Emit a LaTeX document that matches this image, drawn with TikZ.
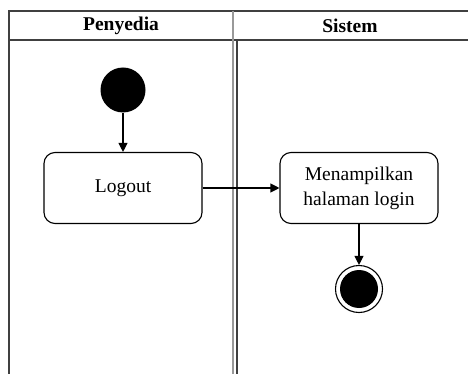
\documentclass[tikz,border=0pt]{standalone}
\usepackage{fontspec}
\setmainfont{Liberation Serif}
\usetikzlibrary{arrows.meta}

\begin{document}
\begin{tikzpicture}[x=1pt,y=-1pt,
    >={Triangle[length=9pt,width=9pt]},
    lane/.style={line width=1.2pt, black!75},
    lanehead/.style={font=\bfseries\fontsize{19.5}{22}\selectfont},
    activity/.style={draw, rounded corners=11pt, line width=1.1pt,
      minimum width=158pt, minimum height=71pt, align=center,
      font=\fontsize{19.5}{25}\selectfont},
    flow/.style={->, line width=1.1pt}]

        \useasboundingbox (0,0) rectangle (468,374);

        % swimlanes
        \draw[lane] (468,11) -- (9,11) -- (9,374);
        \draw[lane] (9,40) -- (468,40);
        \draw[line width=1.8pt, black!40] (233,11) -- (233,374);
        \draw[lane] (237,40) -- (237,374);
        \node[lanehead] (penyedia) at (121,26) {Penyedia};
        \node[lanehead] (sistem)   at (350,26) {Sistem};

        \begin{scope}[every node/.style={activity}]
          \node (logout)   at (123,188) {Logout};
          \node (halaman)  at (359,188) {Menampilkan\\halaman login};
        \end{scope}

        \node[circle, fill=black, minimum size=45pt, inner sep=0pt] (start) at (123,90) {};
        \node[circle, draw, line width=1.1pt, fill=white, minimum size=47pt, inner sep=0pt] (stop) at (359,289) {};
        \node[circle, fill=black, minimum size=38pt, inner sep=0pt] (stopdot) at (stop) {};

        \path (start)   edge[flow] (logout);
        \path (logout)  edge[flow] (halaman);
        \path (halaman) edge[flow] (stop);

      \end{tikzpicture}
\end{document}
